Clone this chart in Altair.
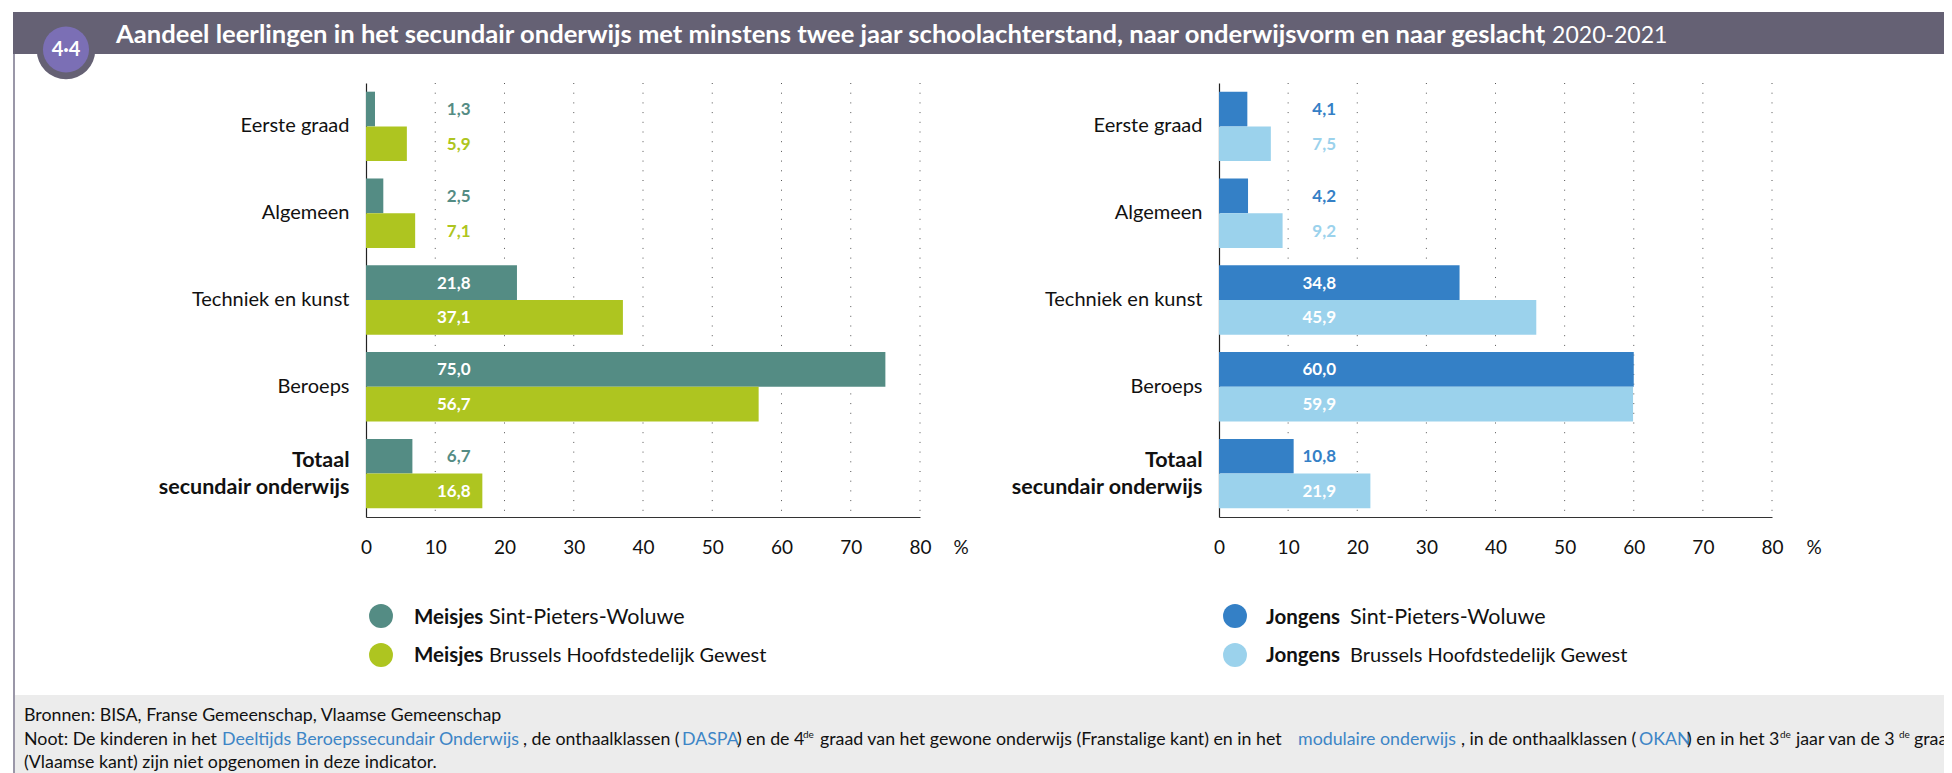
import altair as alt
import pandas as pd

FONT = "Lato"
W, H = 1936, 765
categories = ["Eerste graad", "Algemeen", "Techniek en kunst", "Beroeps", "Totaal|secundair onderwijs"]
girls_spw = [1.3, 2.5, 21.8, 75.0, 6.7]
girls_bhg = [5.9, 7.1, 37.1, 56.7, 16.8]
boys_spw = [4.1, 4.2, 34.8, 60.0, 10.8]
boys_bhg = [7.5, 9.2, 45.9, 59.9, 21.9]
ticks = [0, 10, 20, 30, 40, 50, 60, 70, 80]
grid_ticks = [10, 20, 30, 40, 50, 60, 70, 80]
TEAL, LIME, BLUE, SKY = "#548C84", "#AEC520", "#3480C6", "#9BD2EC"
HEAD, PURPLE, LINK = "#656174", "#7B6FB5", "#3D85C6"
INSIDE_FROM = 15


def frame(a, b):
    rows = []
    for c, v in zip(categories, a):
        rows.append({"cat": c, "s": "a", "v": v})
    for c, v in zip(categories, b):
        rows.append({"cat": c, "s": "b", "v": v})
    df = pd.DataFrame(rows)
    df["lab"] = df.v.map(lambda v: f"{v:.1f}".replace(".", ","))
    return df


def xs(r):
    return alt.Scale(domain=[0, 80], range=r, nice=False, zero=False)


ys = alt.Scale(domain=categories, range=[75, 509], paddingInner=0.2, paddingOuter=0.1)
oy = alt.YOffset("s:N", scale=alt.Scale(type="band", domain=["a", "b"], paddingInner=0, paddingOuter=0))


def panel(a, b, c1, c2, r, label_x):
    df = frame(a, b)
    cs = alt.Scale(domain=["a", "b"], range=[c1, c2])
    grid = alt.Chart(pd.DataFrame({"t": grid_ticks})).mark_rule(
        color="#555555", strokeDash=[1, 8.7], strokeWidth=1
    ).encode(x=alt.X("t:Q", scale=xs(r), axis=None), y=alt.value(75), y2=alt.value(509))
    bars = alt.Chart(df).mark_bar(cornerRadius=0).encode(
        x=alt.X("v:Q", scale=xs(r), axis=alt.Axis(
            orient="bottom", offset=-(H - 509), values=ticks, ticks=False, grid=False, title=None,
            labelFont=FONT, labelFontSize=19, labelColor="#111111", labelPadding=21, labelAngle=0,
            labelFlush=False, domainColor="#333333", domainWidth=1.2, format="d")),
        y=alt.Y("cat:N", scale=ys, sort=categories, title=None, axis=alt.Axis(
            orient="left", offset=-r[0], ticks=False, grid=False,
            labelFont=FONT, labelColor="#111111", labelPadding=17,
            labelLimit=300, labelLineHeight=27,
            labelExpr="split(datum.label,'|')",
            labelOffset=alt.expr("indexof(datum.label,'Totaal')==0 ? -13 : 0"),
            labelFontSize=alt.expr("indexof(datum.label,'Totaal')==0 ? 21.5 : 20"),
            labelFontWeight=alt.expr("indexof(datum.label,'Totaal')==0 ? 'bold' : 'normal'"),
            domainColor="#222222", domainWidth=1.2)),
        yOffset=oy,
        color=alt.Color("s:N", scale=cs, legend=None),
    )
    col_in = alt.Chart(df).transform_filter(f"datum.v >= {INSIDE_FROM}").mark_text(
        align="right", baseline="middle", font=FONT, fontSize=17, fontWeight="bold", color="white", dy=1
    ).encode(x=alt.value(label_x), y=alt.Y("cat:N", scale=ys, sort=categories, axis=None),
             yOffset=oy, text="lab:N")
    col_out = alt.Chart(df).transform_filter(f"datum.v < {INSIDE_FROM}").mark_text(
        align="right", baseline="middle", font=FONT, fontSize=17, fontWeight="bold", dy=1
    ).encode(x=alt.value(label_x), y=alt.Y("cat:N", scale=ys, sort=categories, axis=None),
             yOffset=oy, text="lab:N", color=alt.Color("s:N", scale=cs, legend=None))
    return [grid, bars, col_in, col_out]


def txt(s, x, y, size, weight="normal", color="#111111", align="left", font=FONT, baseline="alphabetic"):
    return alt.Chart(pd.DataFrame({"t": [s]})).mark_text(
        align=align, baseline=baseline, font=font, fontSize=size, fontWeight=weight, color=color
    ).encode(x=alt.value(x - 8), y=alt.value(y - 8), text="t:N")


def box(x1, x2, y1, y2, color):
    return alt.Chart(pd.DataFrame({"k": [0]})).mark_rect(color=color).encode(
        x=alt.value(x1 - 8), x2=alt.value(x2 - 8), y=alt.value(y1 - 8), y2=alt.value(y2 - 8))


def dot(x, y, r, color):
    return alt.Chart(pd.DataFrame({"k": [0]})).mark_circle(
        color=color, opacity=1, size=3.14159 * r * r
    ).encode(x=alt.value(x - 8), y=alt.value(y - 8))


decor = [
    box(13, 15, 12, 773, "#9A97A8"),
    box(15, 1960, 695, 780, "#ECECEC"),
    dot(66, 50, 33, HEAD),
    box(13, 1960, 12, 54, HEAD),
    dot(66, 49.5, 26, PURPLE),
    txt("4·4", 66, 56, 20, "bold", "white", "center"),
    txt("Aandeel leerlingen in het secundair onderwijs met minstens twee jaar schoolachterstand, naar onderwijsvorm en naar geslacht",
        116, 43, 25.6, "bold", "white"),
    txt(", 2020-2021", 1541, 43, 23, "normal", "white"),
    txt("%", 961, 554, 19, align="center"),
    txt("%", 1814, 554, 19, align="center"),
]

L1, L2 = 21.5, 20
legend = [
    dot(381, 616, 13.5, TEAL), dot(381, 655, 13.5, LIME),
    txt("Meisjes", 414, 624, 20.5, "bold"), txt("Sint-Pieters-Woluwe", 489, 624, L1),
    txt("Meisjes", 414, 662, 20.5, "bold"), txt("Brussels Hoofdstedelijk Gewest", 489, 662, L2),
    dot(1235, 616, 13.5, BLUE), dot(1235, 655, 13.5, SKY),
    txt("Jongens", 1266, 624, 20.5, "bold"), txt("Sint-Pieters-Woluwe", 1350, 624, L1),
    txt("Jongens", 1266, 662, 20.5, "bold"), txt("Brussels Hoofdstedelijk Gewest", 1350, 662, L2),
]

FS = 17.8
footer = [
    txt("Bronnen: BISA, Franse Gemeenschap, Vlaamse Gemeenschap", 24, 721, FS),
    txt("Noot: De kinderen in het", 24, 745, FS),
    txt("Deeltijds Beroepssecundair Onderwijs", 222, 745, FS, color=LINK),
    txt(", de onthaalklassen (", 523, 745, FS),
    txt("DASPA", 682, 745, FS, color=LINK),
    txt(") en de 4", 737, 745, FS),
    txt("de", 803, 738, 10),
    txt("graad van het gewone onderwijs (Franstalige kant) en in het", 820, 745, FS),
    txt("modulaire onderwijs", 1298, 745, FS, color=LINK),
    txt(", in de onthaalklassen (", 1461, 745, FS),
    txt("OKAN", 1639, 745, FS, color=LINK),
    txt(") en in het 3", 1687, 745, FS),
    txt("de", 1780, 738, 10),
    txt("jaar van de 3", 1796, 745, FS),
    txt("de", 1899, 738, 10),
    txt("graad", 1914, 745, FS),
    txt("(Vlaamse kant) zijn niet opgenomen in deze indicator.", 24, 768, FS),
]

layers = (
    decor
    + panel(girls_spw, girls_bhg, TEAL, LIME, [358, 912], 462.5)
    + panel(boys_spw, boys_bhg, BLUE, SKY, [1211, 1764], 1328)
    + legend
    + footer
)

chart = alt.layer(*layers).resolve_scale(
    x="independent", y="independent", color="independent", yOffset="independent"
).resolve_axis(x="independent", y="independent").properties(
    width=W, height=H, padding=0, background="white",
    autosize=alt.AutoSizeParams(type="none"),
).configure_view(stroke=None)

chart.save("out.html", embed_options={"renderer": "svg", "actions": False})
